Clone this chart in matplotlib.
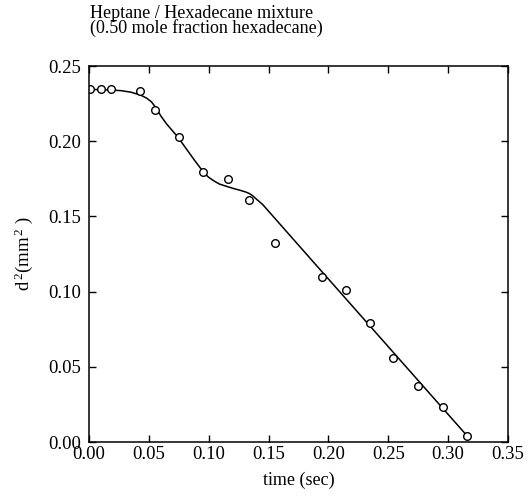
import numpy as np
import matplotlib.pyplot as plt

plt.rcParams['font.family'] = 'Liberation Serif'
plt.rcParams['mathtext.fontset'] = 'custom'
plt.rcParams['mathtext.rm'] = 'Liberation Serif'
plt.rcParams['mathtext.it'] = 'Liberation Serif'

# measured droplet size
time = [0.001, 0.010, 0.018, 0.043, 0.055, 0.075, 0.095, 0.116, 0.134, 0.155,
        0.195, 0.215, 0.235, 0.254, 0.275, 0.296, 0.316]
d2 = [0.2345, 0.2345, 0.2345, 0.2334, 0.2207, 0.2028, 0.1795, 0.1749, 0.1609, 0.1323,
      0.1097, 0.1011, 0.0791, 0.0559, 0.0372, 0.0233, 0.0040]

# smooth fitted curve
fit_t = [0.0, 0.018, 0.027, 0.035, 0.043, 0.048, 0.052, 0.056, 0.060, 0.065,
         0.074, 0.088, 0.096, 0.100, 0.104, 0.109, 0.116, 0.121, 0.127, 0.131,
         0.134, 0.137, 0.140, 0.145, 0.185, 0.202, 0.316]
fit_d2 = [0.2345, 0.2341, 0.2336, 0.2326, 0.2307, 0.2287, 0.2263, 0.2222, 0.2168, 0.2113,
          0.2030, 0.1875, 0.1790, 0.1760, 0.1738, 0.1715, 0.1697, 0.1685, 0.1672, 0.1662,
          0.1652, 0.1636, 0.1614, 0.1580, 0.1219, 0.1066, 0.0040]

xticks = [0.00, 0.05, 0.10, 0.15, 0.20, 0.25, 0.30, 0.35]
yticks = [0.00, 0.05, 0.10, 0.15, 0.20, 0.25]

fig = plt.figure(figsize=(5.28, 5.04), dpi=100)
ax = fig.add_axes([0.1686, 0.123, 0.7934, 0.746])

ax.plot(fit_t, fit_d2, color='k', lw=1.1)
ax.plot(time, d2, 'o', mfc='white', mec='k', ms=5.5, mew=1.0)

ax.set_xlim(0, 0.35)
ax.set_ylim(0, 0.25)
ax.set_xticks(xticks)
ax.set_yticks(yticks)
ax.set_xticklabels(['%.2f' % v for v in xticks])
ax.set_yticklabels(['%.2f' % v for v in yticks])
ax.tick_params(direction='in', top=True, right=True, length=5, width=1,
               labelsize=13.5)
ax.tick_params(axis='x', pad=3)
ax.tick_params(axis='y', pad=6)
for s in ax.spines.values():
    s.set_linewidth(1.1)

ax.set_xlabel('time (sec)', fontsize=13, labelpad=6)
ax.set_ylabel(r'd$^{\,2}$(mm$^{\,2}$ )', fontsize=13.5, labelpad=9)

fig.text(90 / 528, 1 - 21 / 504,
         'Heptane / Hexadecane mixture\n(0.50 mole fraction hexadecane)',
         fontsize=13, ha='left', va='center', linespacing=0.8)

fig.savefig('out.png', dpi=100)
